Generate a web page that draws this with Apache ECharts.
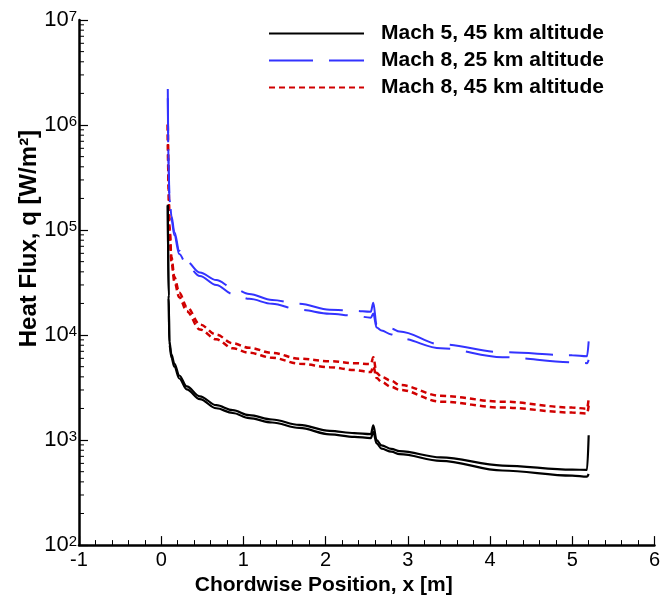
<!DOCTYPE html>
<html>
<head>
<meta charset="utf-8">
<script src="https://cdn.jsdelivr.net/npm/echarts@6/dist/echarts.min.js"></script>
<style>html,body{margin:0;padding:0;background:#fff;}#c{width:663px;height:601px;}</style>
</head>
<body>
<div id="c"></div>
<script>
// chordwise positions [m]
const xs = [0.08, 0.09, 0.10, 0.125, 0.16, 0.22, 0.31, 0.47, 0.67, 0.87, 1.07, 1.35, 1.68, 2.05, 2.35, 2.55, 2.58, 2.62, 2.68, 2.8, 2.9, 3.4, 4.15, 5.0, 5.18, 5.2];
// heat flux [W/m^2], two surfaces per case
const mach5Alt45Upper = [174000, 23800, 8600, 6500, 5340, 4120, 3240, 2610, 2150, 1930, 1725, 1570, 1395, 1225, 1165, 1140, 1380, 1000, 890, 825, 785, 685, 572, 523, 521, 1110];
const mach5Alt45Lower = [170000, 22400, 8070, 6090, 5000, 3860, 3040, 2450, 2010, 1810, 1615, 1470, 1305, 1135, 1075, 1045, 1200, 930, 830, 775, 735, 635, 513, 459, 448, 475];
const mach8Alt25Upper = [2200000, 420000, 210000, 136000, 96000, 63500, 50000, 39500, 33400, 28100, 24600, 21600, 19850, 17420, 17050, 16680, 20300, 12580, 12310, 11540, 10810, 8160, 6860, 6430, 6290, 8700];
const mach8Alt25Lower = [1800000, 380000, 195000, 126000, 89000, 59000, 46500, 36500, 29970, 24640, 22110, 19850, 17420, 15970, 15300, 14640, 16000, 11790, 11050, 10130, 9290, 7480, 6150, 5520, 5400, 5800];
const mach8Alt45Upper = [1020000, 260000, 108000, 55000, 35800, 25300, 18700, 12600, 10100, 8340, 7560, 6770, 5950, 5640, 5400, 5290, 6150, 4350, 3990, 3660, 3350, 2640, 2320, 2040, 1990, 2480];
const mach8Alt45Lower = [1000000, 245000, 102000, 50000, 32300, 22900, 16900, 11300, 9100, 7480, 6780, 6080, 5340, 4950, 4640, 4440, 5060, 3900, 3580, 3210, 3010, 2320, 2040, 1830, 1790, 2130];
const seriesNames = ['Mach 5, 45 km altitude', 'Mach 8, 25 km altitude', 'Mach 8, 45 km altitude'];
// minor tick values for the log axis
const yMinorTicks = [];
for (let e = 2; e < 7; e++) for (let m = 2; m <= 9; m++) yMinorTicks.push(m * Math.pow(10, e));

const pair = (ys) => xs.map((x, i) => [x, ys[i]]);
const styles = [
  { color: '#000000', type: 'solid', width: 2.2 },
  { color: '#3333ff', type: [44, 16], width: 2 },
  { color: '#d00000', type: [6, 4], width: 2.5 }
];
const data = [
  [mach5Alt45Upper, mach5Alt45Lower],
  [mach8Alt25Upper, mach8Alt25Lower],
  [mach8Alt45Upper, mach8Alt45Lower]
];
const series = [];
data.forEach((d, k) => {
  d.forEach(ys => {
    series.push({
      name: seriesNames[k], type: 'line', data: pair(ys), showSymbol: false, symbol: 'none',
      smooth: 0.35, smoothMonotone: 'x', animation: false,
      lineStyle: { color: styles[k].color, type: styles[k].type, width: styles[k].width },
      itemStyle: { color: styles[k].color }, z: 3 - k
    });
  });
});
series.push({
  type: 'custom', silent: true, animation: false, z: 10,
  data: yMinorTicks.map(v => [-1, v]),
  renderItem: (params, api) => {
    const p = api.coord([api.value(0), api.value(1)]);
    return { type: 'line', shape: { x1: p[0], y1: p[1], x2: p[0] + 5, y2: p[1] }, style: { stroke: '#000', lineWidth: 1 } };
  }
});

const chart = echarts.init(document.getElementById('c'), null, { renderer: 'canvas' });
chart.setOption({
  animation: false,
  backgroundColor: '#fff',
  textStyle: { fontFamily: 'Liberation Sans, Arial, sans-serif' },
  grid: { left: 79, right: 6, top: 20, bottom: 50, containLabel: false },
  legend: {
    data: seriesNames, orient: 'vertical', left: 263, top: 18,
    itemWidth: 95, itemHeight: 20, itemGap: 6,
    itemStyle: { opacity: 0 },
    textStyle: { fontSize: 21, fontWeight: 'bold', color: '#000', fontFamily: 'Liberation Sans, Arial, sans-serif', padding: [0, 0, 0, 12] },
    selectedMode: false
  },
  xAxis: {
    type: 'value', min: -1, max: 6, interval: 1,
    name: 'Chordwise Position, x [m]', nameLocation: 'middle', nameGap: 22,
    nameTextStyle: { fontSize: 21, fontWeight: 'bold', color: '#000', padding: [0, 86, 0, 0] },
    axisLine: { onZero: false, lineStyle: { color: '#000', width: 2.5 } },
    axisTick: { inside: true, length: 9, lineStyle: { color: '#000', width: 1.2 } },
    minorTick: { show: true, splitNumber: 5, length: 5, lineStyle: { color: '#000', width: 1 } },
    axisLabel: { fontSize: 20, color: '#000', margin: 5 },
    splitLine: { show: false }
  },
  yAxis: {
    type: 'log', logBase: 10, min: 100, max: 10000000,
    name: 'Heat Flux, q [W/m²]', nameLocation: 'middle', nameGap: 38, nameRotate: 90,
    nameMoveOverlap: false,
    nameTextStyle: { fontSize: 24, fontWeight: 'bold', color: '#000', padding: [0, 0, 0, 88] },
    axisLine: { onZero: false, lineStyle: { color: '#000', width: 2.5 } },
    axisTick: { inside: true, length: 9, lineStyle: { color: '#000', width: 1.2 } },
    minorTick: { show: false },
    splitLine: { show: false },
    axisLabel: {
      margin: 2, color: '#000',
      formatter: v => '{b|10}{s|' + Math.round(Math.log10(v)) + '}',
      rich: {
        b: { fontSize: 22, color: '#000' },
        s: { fontSize: 15, color: '#000', verticalAlign: 'top' }
      }
    }
  },
  series: series
});
</script>
</body>
</html>
